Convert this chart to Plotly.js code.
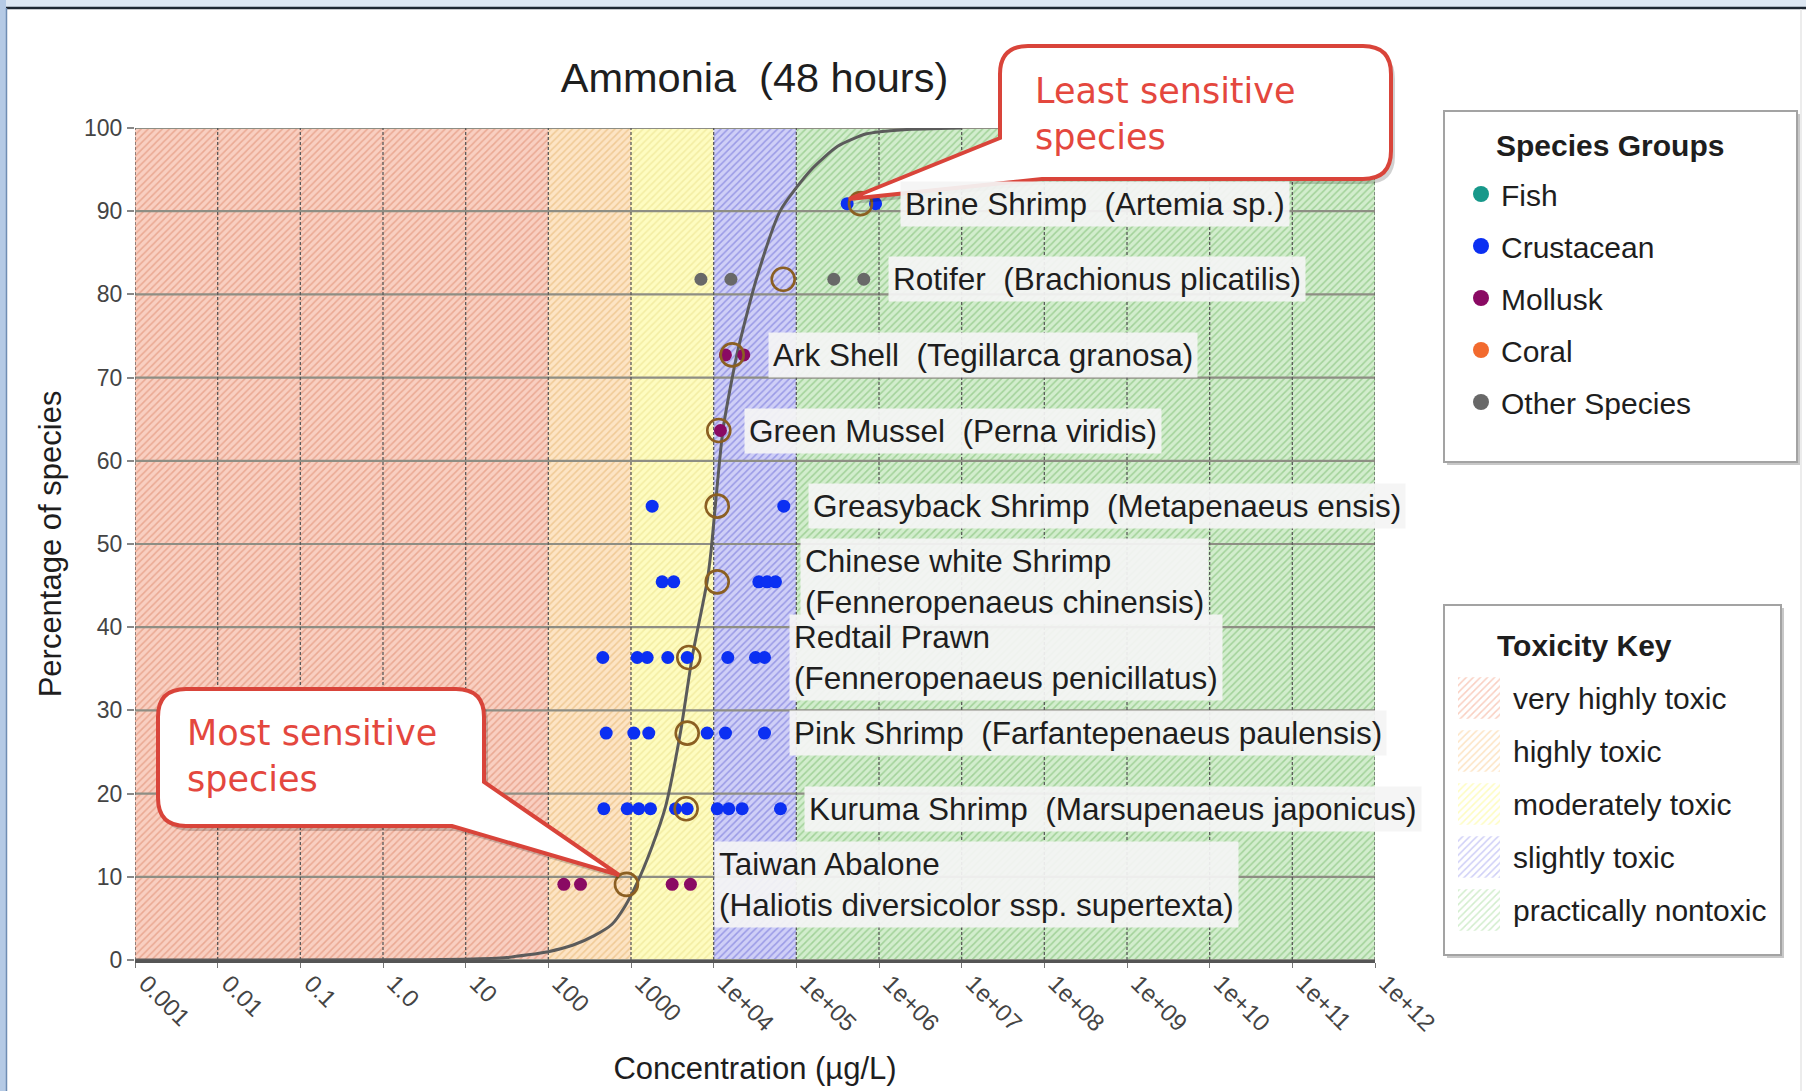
<!DOCTYPE html>
<html><head><meta charset="utf-8">
<script src="https://cdn.plot.ly/plotly-3.0.1.min.js"></script>
<style>html,body{margin:0;padding:0;background:#fff;}#chart{width:1806px;height:1091px;}</style>
</head><body><div id="chart"></div>
<script>
// ---------------- data ----------------
const xTickVals = [0.001, 0.01, 0.1, 1, 10, 100, 1000, 1e4, 1e5, 1e6, 1e7, 1e8, 1e9, 1e10, 1e11, 1e12];
const xTickText = ['0.001', '0.01', '0.1', '1.0', '10', '100', '1000', '1e+04', '1e+05', '1e+06', '1e+07', '1e+08', '1e+09', '1e+10', '1e+11', '1e+12'];
const yTickVals = [0, 10, 20, 30, 40, 50, 60, 70, 80, 90, 100];

const toxNames = ['very highly toxic', 'highly toxic', 'moderately toxic', 'slightly toxic', 'practically nontoxic'];
const toxLower = [0.001, 100, 1000, 1e4, 1e5];
const toxUpper = [100, 1000, 1e4, 1e5, 1e12];

const groupNames = ['Fish', 'Crustacean', 'Mollusk', 'Coral', 'Other Species'];

const speciesLabels = [
  'Taiwan Abalone<br>(Haliotis diversicolor ssp. supertexta)',
  'Kuruma Shrimp  (Marsupenaeus japonicus)',
  'Pink Shrimp  (Farfantepenaeus paulensis)',
  'Redtail Prawn<br>(Fenneropenaeus penicillatus)',
  'Chinese white Shrimp<br>(Fenneropenaeus chinensis)',
  'Greasyback Shrimp  (Metapenaeus ensis)',
  'Green Mussel  (Perna viridis)',
  'Ark Shell  (Tegillarca granosa)',
  'Rotifer  (Brachionus plicatilis)',
  'Brine Shrimp  (Artemia sp.)'
];
const speciesGroup = ['Mollusk', 'Crustacean', 'Crustacean', 'Crustacean', 'Crustacean', 'Crustacean', 'Mollusk', 'Mollusk', 'Other Species', 'Crustacean'];
const speciesPct = [9.09, 18.18, 27.27, 36.36, 45.45, 54.55, 63.64, 72.73, 81.82, 90.91];
const speciesMean = [881, 4645, 4786, 5000, 11040, 11040, 11530, 16750, 69340, 597000];
const speciesTests = [
  [154, 245, 3148, 5236],
  [469, 899, 1242, 1722, 3451, 4786, 11040, 15240, 22130, 64270],
  [501, 1081, 1641, 8337, 13900, 41210],
  [456, 1189, 1570, 2786, 4786, 14830, 32060, 41210],
  [2382, 3289, 35160, 44360, 55980],
  [1803, 70470],
  [12080],
  [13870, 23120],
  [7015, 16180, 283800, 654600],
  [412000, 908000]
];

const curveConc = [0.001, 1, 10, 31.6, 100, 200, 355, 589, 851, 1189, 1778, 2612, 3972, 5495, 8337, 9333, 10540, 13030, 19230, 32960, 64270, 148300, 316200, 707900, 1995000, 10000000];
const curvePct  = [0, 0.02, 0.1, 0.3, 1.0, 1.8, 2.9, 4.3, 6.5, 9.3, 13.5, 18.4, 27.4, 36.4, 45.5, 49.3, 54.9, 63.9, 72.9, 81.9, 90.1, 94.9, 97.8, 99.3, 99.8, 100];

// ---------------- styles ----------------
const toxBg  = ['#f9cfc1', '#fde4c4', '#fefcc0', '#cfcff7', '#d2edcd'];
const toxFg  = ['#eaa993', '#f0ca96', '#f3eda3', '#9a9ae6', '#a2d299'];
const toxPat = ['/', '/', '/', '/', '/'];
const groupColors = ['#17988a', '#0b2ff2', '#8a0a63', '#f26a2e', '#686868'];

const W = 1806, H = 1091, L = 135, R = 6, T = 128, B = 131;
const PW = W - L - R, PH = H - T - B;
const px = v => (v - L) / PW;
const py = v => (H - B - v) / PH;
const FONT = 'Liberation Sans, Arial, Helvetica, sans-serif';

// ---------------- traces ----------------
const traces = [];
const yR = [0, 100];
toxNames.forEach((n, i) => {
  traces.push({
    type: 'scatter', mode: 'lines', xaxis: 'x', yaxis: 'y',
    x: [toxLower[i], toxUpper[i], toxUpper[i], toxLower[i], toxLower[i]],
    y: [yR[0], yR[0], yR[1], yR[1], yR[0]],
    fill: 'toself', fillcolor: toxBg[i], line: {width: 0},
    fillpattern: {shape: toxPat[i], bgcolor: toxBg[i], fgcolor: toxFg[i], size: 5, solidity: 0.3},
    showlegend: false, hoverinfo: 'skip'
  });
});
// grid lines (derived from tick arrays)
const hx = [], hy = [];
yTickVals.forEach(v => { hx.push(xTickVals[0], xTickVals[xTickVals.length - 1], null); hy.push(v, v, null); });
traces.push({type: 'scatter', mode: 'lines', x: hx, y: hy, line: {color: '#8e8e84', width: 2.2}, showlegend: false, hoverinfo: 'skip'});
const vx = [], vy = [];
xTickVals.forEach(v => { vx.push(v, v, null); vy.push(yR[0], yR[1], null); });
traces.push({type: 'scatter', mode: 'lines', x: vx, y: vy, line: {color: '#5a5a5a', width: 1.3, dash: '3px,2px'}, showlegend: false, hoverinfo: 'skip'});
// fitted curve
traces.push({type: 'scatter', mode: 'lines', x: curveConc, y: curvePct, line: {color: '#5b5b5b', width: 3, shape: 'spline', smoothing: 0.6}, showlegend: false, hoverinfo: 'skip'});
// test values per group
groupNames.forEach((g, gi) => {
  const xs = [], ys = [];
  speciesTests.forEach((arr, si) => {
    if (speciesGroup[si] === g) arr.forEach(v => { xs.push(v); ys.push(speciesPct[si]); });
  });
  if (xs.length) traces.push({type: 'scatter', mode: 'markers', x: xs, y: ys, marker: {color: groupColors[gi], size: 13}, showlegend: false, hoverinfo: 'skip'});
});
// species means (hollow circles)
traces.push({type: 'scatter', mode: 'markers', x: speciesMean, y: speciesPct,
  marker: {symbol: 'circle-open', size: 23, color: '#8b5f22', line: {width: 2.6}}, showlegend: false, hoverinfo: 'skip'});
// legend entries for species groups (no data of their own)
groupNames.forEach((g, gi) => {
  traces.push({type: 'scatter', mode: 'markers', x: [null], y: [null], name: g, legendgroup: 'g' + gi,
    marker: {color: groupColors[gi], size: 16}, showlegend: true, hoverinfo: 'skip'});
});
// toxicity key swatches
traces.push({type: 'bar', orientation: 'h', xaxis: 'x2', yaxis: 'y2', y: toxNames, x: toxNames.map(() => 1), width: 0.78,
  marker: {color: toxBg, line: {width: 0}, pattern: {shape: toxPat, bgcolor: toxBg, fgcolor: toxFg, size: 5, solidity: 0.3}},
  showlegend: false, hoverinfo: 'skip'});

// ---------------- shapes ----------------
function pathFrom(cmds, dx, dy) {
  dx = dx || 0; dy = dy || 0;
  return cmds.map(c => {
    if (c[0] === 'Z') return 'Z';
    const pts = [];
    for (let k = 1; k < c.length; k += 2) pts.push(px(c[k] + dx) + ',' + py(c[k + 1] + dy));
    return c[0] + pts.join(' ');
  }).join(' ');
}
function calloutLeast() {
  const x0 = 1000, y0 = 46, x1 = 1391, y1 = 179, r = 28;
  return [['M', x0 + r, y0], ['L', x1 - r, y0], ['Q', x1, y0, x1, y0 + r], ['L', x1, y1 - r], ['Q', x1, y1, x1 - r, y1],
    ['L', 1042, y1], ['L', 849, 199], ['L', x0, 138], ['L', x0, y0 + r], ['Q', x0, y0, x0 + r, y0], ['Z']];
}
function calloutMost() {
  const x0 = 158, y0 = 689, x1 = 484, y1 = 826, r = 28;
  return [['M', x0 + r, y0], ['L', x1 - r, y0], ['Q', x1, y0, x1, y0 + r], ['L', x1, 782], ['L', 619, 875], ['L', 452, y1],
    ['L', x0 + r, y1], ['Q', x0, y1, x0, y1 - r], ['L', x0, y0 + r], ['Q', x0, y0, x0 + r, y0], ['Z']];
}
const shapes = [
  // screenshot frame
  {type: 'rect', xref: 'paper', yref: 'paper', x0: px(0), x1: px(W), y0: py(0), y1: py(7), fillcolor: '#dde7f2', line: {width: 0}, layer: 'below'},
  {type: 'line', xref: 'paper', yref: 'paper', x0: px(0), x1: px(W), y0: py(8), y1: py(8), line: {color: '#1e2731', width: 2.5}, layer: 'below'},
  {type: 'rect', xref: 'paper', yref: 'paper', x0: px(0), x1: px(6), y0: py(0), y1: py(H), fillcolor: '#b5cae5', line: {width: 0}, layer: 'below'},
  {type: 'line', xref: 'paper', yref: 'paper', x0: px(6.5), x1: px(6.5), y0: py(8), y1: py(H), line: {color: '#6f8db3', width: 1.5}, layer: 'below'},
  {type: 'line', xref: 'paper', yref: 'paper', x0: px(1801), x1: px(1801), y0: py(9), y1: py(H), line: {color: '#e6e6e6', width: 1.5}, layer: 'below'},
  // legend boxes
  {type: 'rect', xref: 'paper', yref: 'paper', x0: px(1447), x1: px(1800), y0: py(114), y1: py(465), fillcolor: '#c8c8c8', line: {width: 0}, layer: 'below'},
  {type: 'rect', xref: 'paper', yref: 'paper', x0: px(1444), x1: px(1797), y0: py(111), y1: py(462), fillcolor: '#ffffff', line: {color: '#a3a3a3', width: 2}, layer: 'below'},
  {type: 'rect', xref: 'paper', yref: 'paper', x0: px(1447), x1: px(1784), y0: py(608), y1: py(958), fillcolor: '#c8c8c8', line: {width: 0}, layer: 'below'},
  {type: 'rect', xref: 'paper', yref: 'paper', x0: px(1444), x1: px(1781), y0: py(605), y1: py(955), fillcolor: '#ffffff', line: {color: '#a3a3a3', width: 2}, layer: 'below'},
  // callouts (shadow + body)
  {type: 'path', xref: 'paper', yref: 'paper', path: pathFrom(calloutLeast(), 4, 5), fillcolor: 'rgba(0,0,0,0.18)', line: {width: 0}, layer: 'above'},
  {type: 'path', xref: 'paper', yref: 'paper', path: pathFrom(calloutLeast()), fillcolor: '#ffffff', line: {color: '#d9443a', width: 4}, layer: 'above'},
  {type: 'path', xref: 'paper', yref: 'paper', path: pathFrom(calloutMost(), 4, 5), fillcolor: 'rgba(0,0,0,0.18)', line: {width: 0}, layer: 'above'},
  {type: 'path', xref: 'paper', yref: 'paper', path: pathFrom(calloutMost()), fillcolor: '#ffffff', line: {color: '#d9443a', width: 4}, layer: 'above'}
];

// ---------------- annotations ----------------
const annotations = [];
speciesLabels.forEach((lab, i) => {
  annotations.push({
    xref: 'x', yref: 'y', x: Math.log10(Math.max.apply(null, speciesTests[i])), y: speciesPct[i],
    xanchor: 'left', yanchor: 'middle', xshift: 24, align: 'left', showarrow: false,
    text: lab, font: {family: FONT, size: 31.5, color: '#1e1e1e'},
    bgcolor: 'rgba(244,244,244,0.93)', borderpad: 4
  });
});
annotations.push({xref: 'paper', yref: 'paper', x: px(1033), y: py(114), xanchor: 'left', yanchor: 'middle', align: 'left', showarrow: false,
  text: 'Least sensitive<br>species', font: {family: 'DejaVu Sans, sans-serif', size: 35, color: '#e4473e'}});
annotations.push({xref: 'paper', yref: 'paper', x: px(185), y: py(756), xanchor: 'left', yanchor: 'middle', align: 'left', showarrow: false,
  text: 'Most sensitive<br>species', font: {family: 'DejaVu Sans, sans-serif', size: 35, color: '#e4473e'}});
annotations.push({xref: 'paper', yref: 'paper', x: px(1494), y: py(145), xanchor: 'left', yanchor: 'middle', showarrow: false,
  text: '<b>Species Groups</b>', font: {family: FONT, size: 30, color: '#1e1e1e'}});
annotations.push({xref: 'paper', yref: 'paper', x: px(1495), y: py(645), xanchor: 'left', yanchor: 'middle', showarrow: false,
  text: '<b>Toxicity Key</b>', font: {family: FONT, size: 30, color: '#1e1e1e'}});

// ---------------- layout ----------------
const layout = {
  width: W, height: H, margin: {l: L, r: R, t: T, b: B, pad: 0},
  paper_bgcolor: '#ffffff', plot_bgcolor: 'rgba(0,0,0,0)',
  font: {family: FONT, color: '#222'},
  title: {text: 'Ammonia  (48 hours)', font: {family: FONT, size: 41.5, color: '#1e1e1e'},
    xref: 'paper', x: px(754.5), xanchor: 'center', yref: 'container', y: 1 - 77 / H, yanchor: 'middle'},
  showlegend: true,
  legend: {x: px(1461), xanchor: 'left', y: py(168), yanchor: 'top', bgcolor: 'rgba(0,0,0,0)', borderwidth: 0,
    font: {family: FONT, size: 30, color: '#1e1e1e'}, tracegroupgap: 10, itemclick: false, itemdoubleclick: false},
  xaxis: {type: 'log', anchor: 'y', domain: [0, (1375 - L) / PW], range: [-3, 12], tickvals: xTickVals, ticktext: xTickText,
    tickangle: 45, tickfont: {family: FONT, size: 24, color: '#444'}, ticks: 'outside', ticklen: 5, tickcolor: '#777',
    ticklabelshift: 11, ticklabelstandoff: -8,
    showgrid: false, zeroline: false, showline: true, linecolor: '#555', linewidth: 3, fixedrange: true,
    title: {text: 'Concentration (µg/L)', font: {family: FONT, size: 31, color: '#1e1e1e'}, standoff: 22}},
  yaxis: {anchor: 'x', domain: [0, 1], range: [0, 100], tickvals: yTickVals, tickfont: {family: FONT, size: 23, color: '#444'},
    ticks: 'outside', ticklen: 7, tickwidth: 2, tickcolor: '#888', showgrid: false, zeroline: false, showline: false, fixedrange: true,
    title: {text: 'Percentage of species', font: {family: FONT, size: 31, color: '#1e1e1e'}, standoff: 13}},
  xaxis2: {anchor: 'y2', domain: [px(1458), px(1500)], range: [0, 1], visible: false, fixedrange: true},
  yaxis2: {anchor: 'x2', domain: [py(936.5), py(671.5)], side: 'right', type: 'category', categoryorder: 'array',
    categoryarray: toxNames.slice().reverse(), showgrid: false, zeroline: false, showline: false, ticks: '',
    tickfont: {family: FONT, size: 30, color: '#1e1e1e'}, ticklabelstandoff: 12, fixedrange: true},
  shapes: shapes, annotations: annotations, hovermode: false
};

Plotly.newPlot('chart', traces, layout, {displayModeBar: false, staticPlot: true});
</script>
</body></html>
